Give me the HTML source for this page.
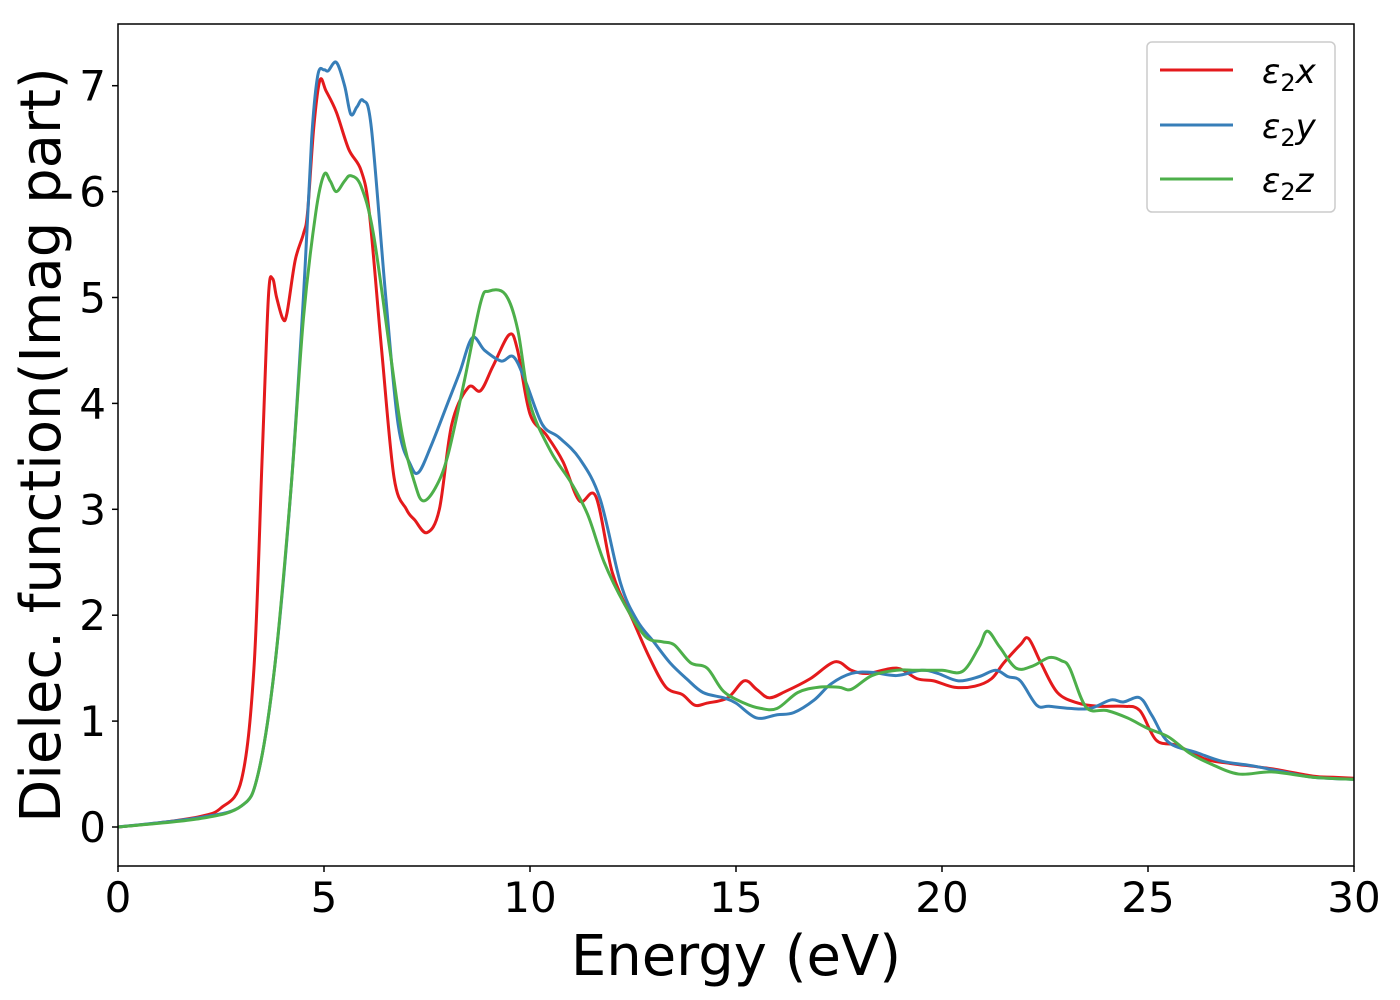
<!DOCTYPE html>
<html><head><meta charset="utf-8"><style>
body{margin:0;background:#fff}
svg{display:block;font-family:"DejaVu Sans","Liberation Sans",sans-serif}
</style></head><body>
<svg id="chart" width="1400" height="1000">
<rect x="0" y="0" width="1400" height="1000" fill="#fff"/>
<g id="plot"></g>
<g id="axes"></g>
<text x="736" y="975" font-size="56" text-anchor="middle">Energy (eV)</text>
<text transform="translate(60,445) rotate(-90)" font-size="56" text-anchor="middle">Dielec. function(Imag part)</text>
<g>
<rect x="1147" y="42" width="188" height="170" rx="5" fill="#fff" stroke="#ccc" stroke-width="1.5"/>
<g><line x1="1160" x2="1233" y1="70" y2="70" stroke="#e41a1c" stroke-width="3"/><text x="1262" y="83" font-size="34" font-style="italic">ε<tspan font-size="24" dy="8" font-style="normal">2</tspan><tspan dy="-8">x</tspan></text></g>
<g><line x1="1160" x2="1233" y1="125" y2="125" stroke="#377eb8" stroke-width="3"/><text x="1262" y="138" font-size="34" font-style="italic">ε<tspan font-size="24" dy="8" font-style="normal">2</tspan><tspan dy="-8">y</tspan></text></g>
<g><line x1="1160" x2="1233" y1="179" y2="179" stroke="#4daf4a" stroke-width="3"/><text x="1262" y="192" font-size="34" font-style="italic">ε<tspan font-size="24" dy="8" font-style="normal">2</tspan><tspan dy="-8">z</tspan></text></g>
</g>
</svg>
<script>
const xTicks=[0,5,10,15,20,25,30];
const yTicks=[0,1,2,3,4,5,6,7];
const eX=[0,1,2,2.5,3,3.3,3.5,3.65,3.75,3.85,4.0,4.1,4.3,4.5,4.6,4.75,4.9,5.05,5.3,5.6,5.9,6.1,6.4,6.7,7.0,7.2,7.5,7.8,8.1,8.5,8.8,9.1,9.5,9.7,10.0,10.4,10.8,11.2,11.6,12.0,12.5,12.9,13.3,13.7,14.0,14.3,14.8,15.2,15.5,15.8,16.2,16.8,17.4,17.8,18.2,18.9,19.4,19.8,20.3,20.8,21.2,21.5,21.9,22.1,22.4,22.8,23.3,23.8,24.4,24.8,25.2,25.7,26.4,27.0,28.0,29.0,29.5,30];
const vX=[0,0.04,0.1,0.18,0.45,1.5,3.5,5.0,5.18,5.0,4.8,4.85,5.35,5.6,5.8,6.6,7.05,6.95,6.75,6.4,6.2,5.8,4.5,3.3,3.0,2.9,2.78,3.0,3.8,4.15,4.12,4.35,4.65,4.5,3.9,3.7,3.45,3.08,3.12,2.4,1.95,1.6,1.32,1.25,1.15,1.17,1.22,1.38,1.3,1.22,1.28,1.4,1.56,1.48,1.45,1.5,1.4,1.38,1.32,1.33,1.4,1.55,1.72,1.78,1.55,1.27,1.17,1.14,1.14,1.1,0.82,0.77,0.64,0.6,0.55,0.48,0.47,0.46];
const eY=[0,2,3,3.4,3.8,4.2,4.5,4.7,4.85,5.0,5.1,5.3,5.5,5.65,5.8,5.95,6.15,6.5,6.8,7.1,7.3,7.6,8.0,8.3,8.6,8.9,9.3,9.6,9.9,10.3,10.7,11.2,11.7,12.2,12.6,13.0,13.4,13.8,14.2,14.7,15.0,15.5,16.0,16.4,16.9,17.3,17.8,18.3,18.9,19.5,19.9,20.4,20.9,21.3,21.6,21.9,22.3,22.6,23.1,23.6,24.1,24.4,24.8,25.1,25.5,26.2,26.8,27.5,28.3,29,30];
const vY=[0,0.09,0.2,0.5,1.5,3.2,5.0,6.5,7.1,7.15,7.14,7.22,7.0,6.73,6.8,6.86,6.6,5.0,3.8,3.42,3.35,3.6,4.0,4.3,4.62,4.5,4.4,4.44,4.2,3.8,3.68,3.48,3.1,2.3,1.95,1.75,1.55,1.4,1.27,1.22,1.17,1.03,1.06,1.08,1.2,1.35,1.45,1.46,1.43,1.48,1.45,1.38,1.42,1.48,1.42,1.38,1.15,1.14,1.12,1.12,1.2,1.18,1.22,1.05,0.8,0.7,0.62,0.58,0.52,0.47,0.45];
const eZ=[0,2,3,3.4,3.8,4.2,4.5,4.8,5.0,5.15,5.3,5.5,5.65,5.9,6.2,6.6,6.9,7.2,7.4,7.7,8.0,8.4,8.8,9.0,9.4,9.7,10.0,10.5,11.0,11.4,11.8,12.3,12.8,13.2,13.5,13.9,14.3,14.7,15.2,15.6,16.0,16.5,17.0,17.5,17.8,18.3,18.9,19.4,20.0,20.5,20.9,21.1,21.4,21.8,22.2,22.6,22.9,23.1,23.5,24.0,24.5,25.0,25.5,26.0,26.5,27.2,28.0,29.0,30];
const vZ=[0,0.08,0.2,0.5,1.5,3.2,4.8,5.8,6.16,6.1,6.0,6.1,6.15,6.05,5.6,4.5,3.7,3.25,3.08,3.2,3.5,4.2,4.95,5.06,5.03,4.7,4.0,3.55,3.25,2.95,2.5,2.1,1.8,1.75,1.72,1.55,1.5,1.28,1.17,1.12,1.12,1.27,1.32,1.32,1.3,1.43,1.48,1.48,1.48,1.47,1.7,1.85,1.7,1.5,1.52,1.6,1.57,1.5,1.13,1.1,1.03,0.93,0.85,0.7,0.6,0.5,0.52,0.47,0.45];
const X0=118,X1=1354,YT=24,YB=866;
const xs=e=>X0+(e/30)*(X1-X0);
const ys=v=>827-v*105.9;
const NS="http://www.w3.org/2000/svg";
const plot=document.getElementById('plot'),axes=document.getElementById('axes');
function path(E,V){
  const p=E.map((e,i)=>[xs(e),ys(V[i])]);
  let d=`M${p[0][0]},${p[0][1]}`;
  for(let i=0;i<p.length-1;i++){
    const a=p[Math.max(0,i-1)],b=p[i],c=p[i+1],n=p[Math.min(p.length-1,i+2)];
    const t=6;
    d+=` C${b[0]+(c[0]-a[0])/t},${b[1]+(c[1]-a[1])/t} ${c[0]-(n[0]-b[0])/t},${c[1]-(n[1]-b[1])/t} ${c[0]},${c[1]}`;
  }
  return d;
}
[[eX,vX,'#e41a1c','series-eps2x'],[eY,vY,'#377eb8','series-eps2y'],[eZ,vZ,'#4daf4a','series-eps2z']].forEach(s=>{
  const el=document.createElementNS(NS,'path');
  el.setAttribute('d',path(s[0],s[1]));
  el.setAttribute('fill','none');el.setAttribute('stroke',s[2]);el.setAttribute('stroke-width','3');
  
  
  plot.appendChild(el);
});
const fr=document.createElementNS(NS,'rect');
fr.setAttribute('x',X0);fr.setAttribute('y',YT);fr.setAttribute('width',X1-X0);fr.setAttribute('height',YB-YT);
fr.setAttribute('fill','none');fr.setAttribute('stroke','#000');fr.setAttribute('stroke-width','1.5');


axes.appendChild(fr);
xTicks.forEach(t=>{
  const l=document.createElementNS(NS,'line');
  l.setAttribute('x1',xs(t));l.setAttribute('x2',xs(t));l.setAttribute('y1',YB);l.setAttribute('y2',YB+6);l.setAttribute('stroke','#000');l.setAttribute('stroke-width','1.5');
  
  
  axes.appendChild(l);
  const tx=document.createElementNS(NS,'text');
  tx.setAttribute('x',xs(t));tx.setAttribute('y',912);tx.setAttribute('font-size','42');tx.setAttribute('text-anchor','middle');
  tx.textContent=t;
  
  
  axes.appendChild(tx);
});
yTicks.forEach(t=>{
  const l=document.createElementNS(NS,'line');
  l.setAttribute('x1',X0-6);l.setAttribute('x2',X0);l.setAttribute('y1',ys(t));l.setAttribute('y2',ys(t));l.setAttribute('stroke','#000');l.setAttribute('stroke-width','1.5');
  
  
  axes.appendChild(l);
  const tx=document.createElementNS(NS,'text');
  tx.setAttribute('x',X0-12);tx.setAttribute('y',ys(t)+15);tx.setAttribute('font-size','42');tx.setAttribute('text-anchor','end');
  tx.textContent=t;
  
  
  axes.appendChild(tx);
});
</script>
</body></html>
